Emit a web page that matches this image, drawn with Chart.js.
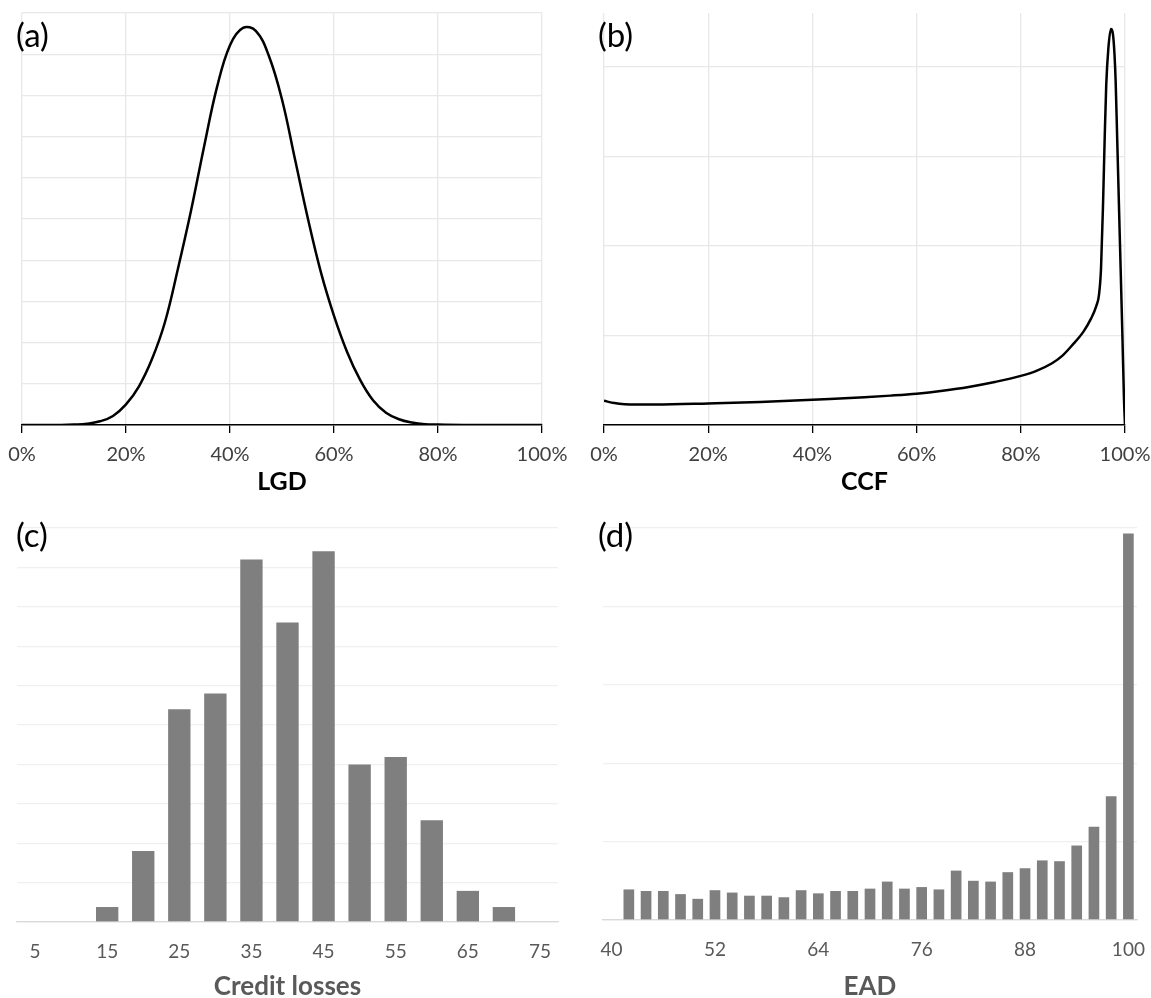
<!DOCTYPE html>
<html>
<head>
<meta charset="utf-8">
<script src="https://cdn.jsdelivr.net/npm/chart.js@4.4.1/dist/chart.umd.min.js"></script>
<style>
  body { margin: 0; background: #fff; width: 1151px; height: 998px; position: relative; overflow: hidden; }
  .panel { position: absolute; }
  .tag { position: absolute; font: 33px Lato, sans-serif; color: #000; line-height: 1; }
</style>
</head>
<body>
<div class="panel" style="left:0;top:0;width:575px;height:500px"><canvas id="lgdChart"></canvas></div>
<div class="panel" style="left:575px;top:0;width:576px;height:500px"><canvas id="ccfChart"></canvas></div>
<div class="panel" style="left:0;top:476px;width:575px;height:522px"><canvas id="lossChart"></canvas></div>
<div class="panel" style="left:575px;top:476px;width:576px;height:522px"><canvas id="eadChart"></canvas></div>
<div class="tag" style="left:16px;top:18px">(a)</div>
<div class="tag" style="left:598px;top:18px">(b)</div>
<div class="tag" style="left:16px;top:518px">(c)</div>
<div class="tag" style="left:598px;top:518px">(d)</div>
<script>
// (a) LGD density (x in %)
const lgdX = [0, 2.5, 5, 7.5, 10, 12.5, 15, 17.5, 20, 22.5, 25, 27.5, 30, 32.5, 35, 37.5, 40, 42.5, 45, 47.5, 50, 52.5, 55, 57.5, 60, 62.5, 65, 67.5, 70, 72.5, 75, 77.5, 80, 85, 90, 95, 100];
const lgdDensity = [0, 0, 0, 0, 0.01, 0.03, 0.09, 0.22, 0.5, 0.94, 1.6, 2.5, 3.8, 5.2, 6.75, 8.2, 9.22, 9.64, 9.56, 8.95, 7.9, 6.45, 5.0, 3.7, 2.65, 1.78, 1.1, 0.6, 0.3, 0.14, 0.06, 0.02, 0.01, 0, 0, 0, 0];

// (b) CCF density
const ccfX = [0, 2, 4, 6, 10, 20, 30, 40, 50, 55, 60, 65, 70, 75, 80, 83, 86, 88, 90, 92, 93.5, 94.5, 95, 95.4, 95.8, 96.1, 96.4, 96.8, 97.3, 97.8, 98.2, 98.5, 99, 99.5, 99.8, 100];
const ccfDensity = [0.27, 0.245, 0.232, 0.228, 0.228, 0.24, 0.256, 0.283, 0.31, 0.328, 0.35, 0.383, 0.425, 0.48, 0.548, 0.605, 0.69, 0.775, 0.9, 1.04, 1.19, 1.33, 1.45, 1.75, 2.5, 3.2, 3.8, 4.2, 4.42, 4.3, 3.85, 3.2, 2.1, 1.0, 0.3, 0];

// (c) credit losses histogram
const lossBins = ['5', '10', '15', '20', '25', '30', '35', '40', '45', '50', '55', '60', '65', '70', '75'];
const lossCounts = [0, 0, 0.38, 1.8, 5.4, 5.8, 9.2, 7.6, 9.41, 4.0, 4.19, 2.58, 0.79, 0.38, 0];

// (d) EAD histogram
const eadBins = ['40', '42', '44', '46', '48', '50', '52', '54', '56', '58', '60', '62', '64', '66', '68', '70',
  '72', '74', '76', '78', '80', '82', '84', '86', '88', '90', '92', '94', '96', '98', '100'];
const eadCounts = [0, 0.39, 0.37, 0.37, 0.33, 0.27, 0.38, 0.35, 0.31, 0.31, 0.29, 0.38, 0.34, 0.37, 0.37, 0.40,
  0.49, 0.40, 0.42, 0.39, 0.63, 0.50, 0.49, 0.61, 0.66, 0.76, 0.75, 0.95, 1.19, 1.58, 4.93];

const FONT = 'Lato, "Open Sans", sans-serif';

// fixed axis height, and no automatic room for overhanging edge labels
const fixAxis = (h) => (scale) => { scale.height = h; scale.paddingLeft = 0; scale.paddingRight = 0; };

function renderDensityChart(canvasId, xs, ys, { yMax, title, smooth, pad }) {
  const ctx = document.getElementById(canvasId).getContext('2d');
  return new Chart(ctx, {
    type: 'line',
    data: {
      datasets: [{
        data: xs.map((x, i) => ({ x, y: ys[i] })),
        borderColor: '#000',
        borderWidth: 2.5,
        pointRadius: 0,
        ...smooth,
        fill: false
      }]
    },
    options: {
      animation: false,
      responsive: true,
      maintainAspectRatio: false,
      layout: { padding: pad },
      plugins: { legend: { display: false }, tooltip: { enabled: false } },
      scales: {
        x: {
          type: 'linear', min: 0, max: 100,
          afterFit: fixAxis(75),
          ticks: { stepSize: 20, callback: (v) => v + '%', color: '#404040', font: { family: FONT, size: 20 }, padding: 10, maxRotation: 0 },
          grid: { color: '#e8e8e8', tickColor: '#000', tickLength: 8, lineWidth: 1.3 },
          border: { color: '#000', width: 1.5 },
          title: { display: true, text: title, color: '#000', font: { family: FONT, size: 25, weight: 'bold' }, padding: { top: 0, bottom: 3 } }
        },
        y: {
          min: 0, max: yMax,
          ticks: { display: false, stepSize: 1 },
          grid: { color: (c) => (c.tick && Number.isInteger(c.tick.value) ? '#e8e8e8' : 'rgba(0,0,0,0)'), drawTicks: false, lineWidth: 1.3 },
          border: { display: false }
        }
      }
    }
  });
}

function renderHistChart(canvasId, bins, counts, { yMax, title, every, axisH, pad }) {
  const ctx = document.getElementById(canvasId).getContext('2d');
  return new Chart(ctx, {
    type: 'bar',
    data: {
      labels: bins,
      datasets: [{ data: counts, backgroundColor: '#7f7f7f', categoryPercentage: 1, barPercentage: 0.62 }]
    },
    options: {
      animation: false,
      responsive: true,
      maintainAspectRatio: false,
      layout: { padding: pad },
      plugins: { legend: { display: false }, tooltip: { enabled: false } },
      scales: {
        x: {
          afterFit: fixAxis(axisH),
          ticks: {
            autoSkip: false, maxRotation: 0, color: '#595959', font: { family: FONT, size: 19 }, padding: 18,
            callback: function (v, i) { return i % every === 0 ? this.getLabelForValue(v) : ''; }
          },
          grid: { display: false, drawTicks: false },
          border: { color: '#d9d9d9', width: 1.3 },
          title: { display: true, text: title, color: '#595959', font: { family: FONT, size: 26, weight: 'bold', lineHeight: 0.9 }, padding: { top: 0, bottom: 0 } }
        },
        y: {
          min: 0, max: yMax,
          ticks: { display: false, stepSize: 1 },
          grid: { color: (c) => (c.tick && c.tick.value === 0 ? '#d9d9d9' : '#f0f0f0'), drawTicks: false, lineWidth: 1.3 },
          border: { display: false }
        }
      }
    }
  });
}

renderDensityChart('lgdChart', lgdX, lgdDensity, { yMax: 10, title: 'LGD', smooth: { tension: 0.4 }, pad: { left: 22, right: 33, top: 13, bottom: 0 } });
renderDensityChart('ccfChart', ccfX, ccfDensity, { yMax: 4.6, title: 'CCF', smooth: { cubicInterpolationMode: 'monotone' }, pad: { left: 29, right: 26, top: 13, bottom: 0 } });
renderHistChart('lossChart', lossBins, lossCounts, { yMax: 10, title: 'Credit losses', every: 2, axisH: 76, pad: { left: 17, right: 17, top: 52, bottom: 0 } });
renderHistChart('eadChart', eadBins, eadCounts, { yMax: 5, title: 'EAD', every: 6, axisH: 78, pad: { left: 28, right: 14, top: 52, bottom: 0 } });
</script>
</body>
</html>
